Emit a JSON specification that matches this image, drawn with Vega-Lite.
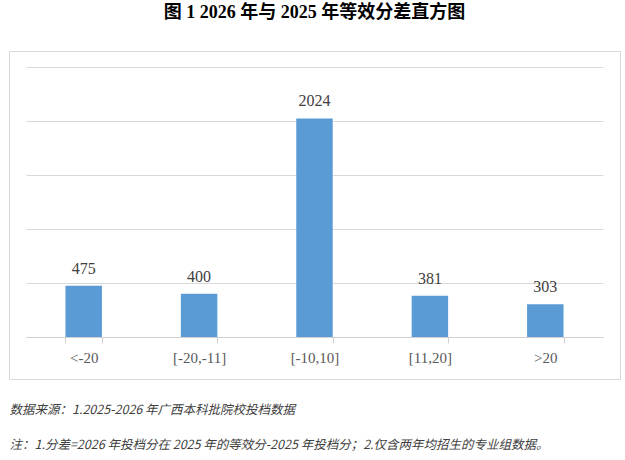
{
  "$schema": "https://vega.github.io/schema/vega-lite/v6.json",
  "width": 611,
  "height": 328,
  "autosize": "none",
  "padding": {"left": 9, "top": 51, "right": 5, "bottom": 81},
  "background": "white",
  "title": {
    "text": "图 1 2026 年与 2025 年等效分差直方图",
    "font": "Liberation Serif, Noto Sans CJK SC",
    "fontSize": 18,
    "fontWeight": "bold",
    "color": "black",
    "anchor": "middle",
    "baseline": "bottom",
    "offset": 11
  },
  "data": {
    "values": [
      {"range": "<-20", "count": 475},
      {"range": "[-20,-11]", "count": 400},
      {"range": "[-10,10]", "count": 2024},
      {"range": "[11,20]", "count": 381},
      {"range": ">20", "count": 303}
    ]
  },
  "encoding": {
    "x": {
      "field": "range",
      "type": "nominal",
      "sort": null,
      "scale": {"range": [17, 594], "paddingInner": 0.684, "paddingOuter": 0.342},
      "axis": {
        "offset": -42,
        "labelAngle": 0,
        "tickBand": "extent",
        "tickSize": 6,
        "tickColor": "#d0d0d0",
        "domainColor": "#d0d0d0",
        "labelFont": "Liberation Serif",
        "labelFontSize": 15,
        "labelColor": "#595959",
        "labelPadding": 7,
        "title": [
          "数据来源：1.2025-2026 年广西本科批院校投档数据",
          "注：1.分差=2026 年投档分在 2025 年的等效分-2025 年投档分；2.仅含两年均招生的专业组数据。"
        ],
        "titleFont": "Noto Sans CJK SC",
        "titleFontSize": 12.5,
        "titleFontStyle": "italic",
        "titleFontWeight": "normal",
        "titleColor": "#404040",
        "titleAlign": "left",
        "titleBaseline": "top",
        "titleLineHeight": 35,
        "titleX": 0,
        "titleY": 66
      }
    },
    "y": {
      "field": "count",
      "type": "quantitative",
      "scale": {"domain": [0, 2500], "range": [286, 16], "nice": false},
      "axis": {
        "values": [0, 500, 1000, 1500, 2000, 2500],
        "labels": false,
        "ticks": false,
        "domain": false,
        "grid": true,
        "gridColor": "#d9d9d9",
        "title": null
      }
    }
  },
  "layer": [
    {"mark": {"type": "bar", "color": "#5b9bd5"}},
    {
      "mark": {
        "type": "text",
        "font": "Liberation Serif",
        "fontSize": 16,
        "color": "#404040",
        "baseline": "alphabetic",
        "dy": -12
      },
      "encoding": {"text": {"field": "count", "type": "quantitative"}}
    }
  ],
  "config": {
    "view": {"stroke": "#d9d9d9", "strokeWidth": 1},
    "text": {"font": "Liberation Serif"}
  }
}
